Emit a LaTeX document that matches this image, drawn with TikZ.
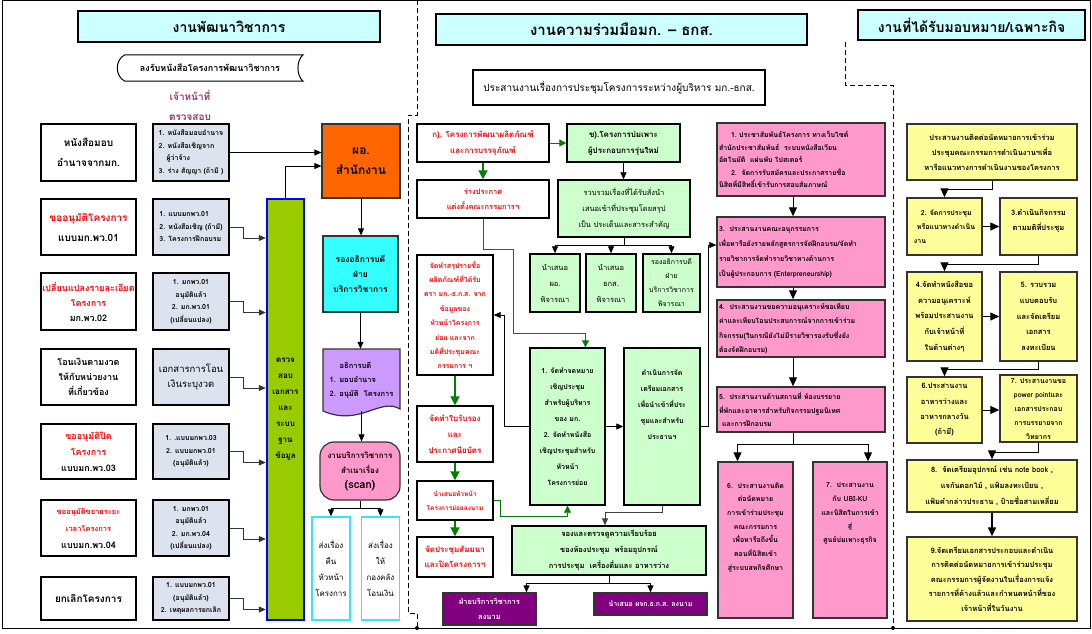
\documentclass[tikz,border=0pt]{standalone}
\usepackage{fontspec}
\setmainfont{Loma}[Script=Thai]
\usetikzlibrary{arrows.meta, calc}
\definecolor{headcyan}{HTML}{CCFFFF}
\definecolor{docgray}{HTML}{DDE3EE}
\definecolor{lime}{HTML}{99CC00}
\definecolor{orangebox}{HTML}{FF6600}
\definecolor{cyanbox}{HTML}{33FFFF}
\definecolor{cyanline}{HTML}{33E6FF}
\definecolor{lavender}{HTML}{CC99FF}
\definecolor{pinkbox}{HTML}{FF99CC}
\definecolor{greenbox}{HTML}{CCFFCC}
\definecolor{purplebox}{HTML}{800080}
\definecolor{yellowbox}{HTML}{FFFF99}
\definecolor{txtred}{HTML}{FF0000}
\definecolor{txtmaroon}{HTML}{993366}
\definecolor{arrgreen}{HTML}{008000}
\definecolor{edgegray}{HTML}{333333}
\newcommand{\fsz}[2]{\fontsize{#1}{#2}\selectfont}
\tikzset{
  head/.style={draw, line width=2.4pt, fill=headcyan, font=\fsz{14}{16}\bfseries},
  lbox/.style={draw, line width=1.4pt, fill=white, align=center, inner sep=1pt, minimum width=95pt},
  gbox/.style={draw, line width=1.4pt, fill=docgray, align=center, inner sep=2pt, minimum width=76pt, font=\fsz{7}{12.5}\bfseries},
  mbox/.style={draw, line width=1.4pt, fill=white, align=center, inner sep=1pt, text=txtred, font=\fsz{7.5}{15}\bfseries},
  gnbox/.style={draw, line width=1.4pt, fill=greenbox, align=center, inner sep=1pt, font=\fsz{7.5}{16}\bfseries},
  pkbox/.style={draw=edgegray, line width=1.4pt, fill=pinkbox, inner sep=2pt, font=\fsz{7}{12.5}\bfseries},
  ylbox/.style={draw=edgegray, line width=1.4pt, fill=yellowbox, align=center, inner sep=1pt, font=\fsz{7.5}{15}\bfseries},
  cybox/.style={draw=cyanline, line width=1.4pt, fill=white, align=center, minimum width=38pt, minimum height=103pt, font=\fsz{8}{16}},
  arr/.style={-{Triangle[length=7pt,width=6pt]}, line width=0.8pt},
  arrbig/.style={-{Triangle[length=9pt,width=8pt]}, line width=1pt},
  garr/.style={-{Triangle[length=9pt,width=9pt]}, line width=1.8pt, draw=arrgreen},
  gline/.style={-{Triangle[length=7pt,width=7pt]}, line width=1pt, draw=arrgreen},
}
\begin{document}
\begin{tikzpicture}[x=1pt,y=-1pt]
\useasboundingbox (0,0) rectangle (1092,634);
\draw[line width=1pt] (2,1) rectangle (1090,628);
% separators
\draw[dash pattern=on 5pt off 3pt, line width=0.8pt] (417,0) -- (417,115) -- (408,115) -- (408,613) -- (417,613) -- (417,628);
\fill (417,628) circle (2pt);
\draw[dash pattern=on 5pt off 3pt, line width=0.8pt] (845,42) -- (845,85) -- (893,85) -- (893,628);
\fill (893,628) circle (2pt);

% headers
\node[head, minimum width=302pt, minimum height=31pt] (h1) at (229,26.5) {งานพัฒนาวิชาการ};
\node[head, minimum width=371pt, minimum height=31pt, font=\fsz{15}{17}\bfseries] (h2) at (621.5,29.5) {งานความร่วมมือมก. – ธกส.};
\node[head, minimum width=227pt, minimum height=30pt, font=\fsz{14}{16}\bfseries] (h3) at (971.5,25) {งานที่ได้รับมอบหมาย/เฉพาะกิจ};
\node[draw, line width=2pt, minimum width=292pt, minimum height=35pt, font=\fsz{10}{12}] (meet) at (619,87.5) {ประสานงานเรื่องการประชุมโครงการระหว่างผู้บริหาร มก.-ธกส.};

% left part
\node[font=\fsz{9}{11}\bfseries, minimum width=186pt, minimum height=26pt] (recv) at (210,68) {ลงรับหนังสือโครงการพัฒนาวิชาการ};
\draw[line width=1pt] ([xshift=8pt]recv.north west) -- (recv.north east) .. controls +(-7,5) and +(-7,-5) .. (recv.south east) -- ([xshift=8pt]recv.south west) .. controls +(-10,-5) and +(-10,5) .. ([xshift=8pt]recv.north west);
\node[text=txtmaroon, font=\fsz{10}{20}\bfseries, align=center] (officer) at (190,105) {เจ้าหน้าที่\\ตรวจสอบ};

\node[lbox, minimum height=57pt, font=\fsz{10}{20}\bfseries] (l1) at (88.5,152.5) {หนังสือมอบ\\อำนาจจากมก.};
\node[lbox, minimum height=56pt, font=\fsz{10}{20}\bfseries] (l2) at (88.5,227) {\textcolor{txtred}{ขออนุมัติโครงการ}\\แบบมก.พว.01};
\node[lbox, minimum height=57pt, font=\fsz{9}{15}\bfseries] (l3) at (88.5,301.5) {\textcolor{txtred}{เปลี่ยนแปลงรายละเอียด}\\\textcolor{txtred}{โครงการ}\\มก.พว.02};
\node[lbox, minimum height=56pt, font=\fsz{9}{15}\bfseries] (l4) at (88.5,377) {โอนเงินตามงวด\\ให้กับหน่วยงาน\\ที่เกี่ยวข้อง};
\node[lbox, minimum height=55pt, font=\fsz{9}{16}\bfseries] (l5) at (88.5,451.5) {\textcolor{txtred}{ขออนุมัติปิด}\\\textcolor{txtred}{โครงการ}\\แบบมก.พว.03};
\node[lbox, minimum height=56pt, font=\fsz{9}{17}\bfseries] (l6) at (88.5,528) {\textcolor{txtred}{\fsz{7.5}{16}ขออนุมัติขยายระยะ}\\\textcolor{txtred}{\fsz{7.5}{16}เวลาโครงการ}\\แบบมก.พว.04};
\node[lbox, minimum height=43pt, font=\fsz{10}{14}\bfseries] (l7) at (88.5,598.5) {ยกเลิกโครงการ};

\node[gbox, minimum height=57pt, align=left] (g1) at (191,152.5) {1. หนังสือมอบอำนาจ\\2. หนังสือเชิญจาก\\\hspace*{8pt}ผู้ว่าจ้าง\\3. ร่าง สัญญา (ถ้ามี )};
\node[gbox, minimum height=56pt, align=left] (g2) at (191,227) {1. แบบมกพว.01\\2. หนังสือเชิญ (ถ้ามี)\\3. โครงการฝึกอบรม};
\node[gbox, minimum height=57pt] (g3) at (191,301.5) {1. มกพว.01\\อนุมัติแล้ว\\2. มก.พว.01\\(เปลี่ยนแปลง)};
\node[gbox, minimum height=56pt, font=\fsz{9.5}{15}] (g4) at (191,377) {เอกสารการโอน\\เงินระบุงวด};
\node[gbox, minimum height=55pt] (g5) at (191,451.5) {1. .แบบมกพว.03\\2. แบบมกพว.01\\(อนุมัติแล้ว)};
\node[gbox, minimum height=56pt] (g6) at (191,528) {1. มกพว.01\\อนุมัติแล้ว\\2. มก.พว.04\\(เปลี่ยนแปลง)};
\node[gbox, minimum height=43pt] (g7) at (191,598.5) {1. แบบมกพว.01\\(อนุมัติแล้ว)\\2. เหตุผลการยกเลิก};

\node[draw=blue, line width=2.4pt, fill=lime, minimum width=37pt, minimum height=421pt, align=center, font=\fsz{8}{16}\bfseries] (bar) at (285.5,409.5) {ตรวจ\\สอบ\\เอกสาร\\และ\\ระบบ\\ฐาน\\ข้อมูล};

\node[draw=edgegray, line width=1.2pt, fill=orangebox, minimum width=78pt, minimum height=74pt, align=center, font=\fsz{12}{20}\bfseries] (po) at (361,161) {ผอ.\\สำนักงาน};
\node[draw=edgegray, line width=1.2pt, fill=cyanbox, minimum width=75pt, minimum height=76pt, align=center, font=\fsz{8.5}{15}\bfseries] (rong) at (360.5,274) {รองอธิการบดี\\ฝ่าย\\บริการวิชาการ};
\draw[draw=edgegray, line width=1.2pt, fill=lavender] (323,349) -- (400,349) -- (400,409) .. controls (380,397) and (360,427) .. (323,411) -- cycle;
\node[minimum width=77pt, minimum height=62pt, align=left, font=\fsz{7.5}{14}\bfseries] (doc) at (361.5,380) {\hspace*{10pt}อธิการบดี\\1. มอบอำนาจ\\2. อนุมัติ\ \ โครงการ};
\node[draw=edgegray, line width=1.2pt, fill=pinkbox, rounded corners=14pt, minimum width=80pt, minimum height=58pt, align=center, font=\fsz{8}{15}\bfseries] (scan) at (360,471) {งานบริการวิชาการ\\สำเนาเรื่อง\\{\fsz{11}{15}(scan)}};
\node[cybox] (ca) at (331,568.5) {ส่งเรื่อง\\คืน\\หัวหน้า\\โครงการ};
\node[cybox] (cb) at (380.5,568.5) {ส่งเรื่อง\\ให้\\กองคลัง\\โอนเงิน};

% middle part
\node[mbox, minimum width=132pt, minimum height=38pt, font=\fsz{8}{16}\bfseries] (ka) at (483,143) {ก). โครงการพัฒนาผลิตภัณฑ์\\และการบรรจุภัณฑ์};
\node[gnbox, minimum width=113pt, minimum height=38pt, font=\fsz{8}{16}\bfseries] (kha) at (623.5,143) {ข).โครงการบ่มเพาะ\\ผู้ประกอบการรุ่นใหม่};
\node[mbox, minimum width=132pt, minimum height=38pt] (rak) at (483,199) {ร่างประกาศ\\แต่งตั้งคณะกรรมการฯ};
\node[gnbox, minimum width=132pt, minimum height=57pt, font=\fsz{7.5}{16}] (ruam) at (624,208.5) {รวบรวมเรื่องที่ได้รับสั่งนำ\\เสนอเข้าที่ประชุมโดยสรุป\\เป็น ประเด็นและสาระสำคัญ};
\node[gnbox, minimum width=50pt, minimum height=58pt, font=\fsz{7.5}{16}] (n1) at (555,283) {นำเสนอ\\ผอ.\\พิจารณา};
\node[gnbox, minimum width=50pt, minimum height=58pt, font=\fsz{7.5}{16}] (n2) at (611,283) {นำเสนอ\\ธกส.\\พิจารณา};
\node[gnbox, minimum width=57pt, minimum height=58pt, font=\fsz{7}{14}] (n3) at (671.5,283) {รองอธิการบดี\\ฝ่าย\\บริการวิชาการ\\พิจารณา};
\node[mbox, minimum width=76pt, minimum height=120pt, font=\fsz{7}{14.4}\bfseries] (sarup) at (455,315) {จัดทำสรุปรายชื่อ\\ผลิตภัณฑ์ที่ได้รับ\\ตรา มก.-ธ.ก.ส. จาก\\ข้อมูลของ\\หัวหน้าโครงการ\\ย่อย และจาก\\มติที่ประชุมคณะ\\กรรมการ ฯ};
\node[mbox, minimum width=76pt, minimum height=56pt, font=\fsz{8}{16}\bfseries] (bai) at (455,434) {จัดทำใบรับรอง\\และ\\ประกาศนียบัตร};
\node[mbox, minimum width=76pt, minimum height=39pt, font=\fsz{6.5}{14}\bfseries] (nam) at (455,500.5) {นำเสนอหัวหน้า\\โครงการย่อยลงนาม};
\node[mbox, minimum width=76pt, minimum height=40pt, font=\fsz{8}{15}\bfseries] (sam) at (455,557) {จัดประชุมสัมมนา\\และปิดโครงการฯ};
\node[gnbox, minimum width=75pt, minimum height=157pt, font=\fsz{7}{16}\bfseries] (jd1) at (567.5,426.5) {1. จัดทำจดหมาย\\เชิญประชุม\\สำหรับผู้บริหาร\\ของ มก.\\2. จัดทำหนังสือ\\เชิญประชุมสำหรับ\\หัวหน้า\\โครงการย่อย};
\node[gnbox, minimum width=76pt, minimum height=157pt, font=\fsz{7}{16}\bfseries] (jd2) at (662,426.5) {ดำเนินการจัด\\เตรียมเอกสาร\\เพื่อนำเข้าที่ประ\\ชุมและสำหรับ\\ประธานฯ\\[11pt]\mbox{}\\\mbox{}};
\node[gnbox, minimum width=194pt, minimum height=49pt, font=\fsz{7.5}{16}\bfseries] (jong) at (609,550.5) {จองและตรวจดูความเรียบร้อย\\ของห้องประชุม\ \ พร้อมอุปกรณ์\\การประชุม\ \ เครื่องดื่มและ อาหารว่าง};
\node[draw=edgegray, line width=1.2pt, fill=purplebox, text=white, minimum width=93pt, minimum height=32pt, align=center, font=\fsz{7.5}{15}\bfseries] (pa) at (489.5,609) {ฝ่ายบริการวิชาการ\\ลงนาม};
\node[draw=edgegray, line width=1.2pt, fill=purplebox, text=white, minimum width=113pt, minimum height=22pt, align=center, font=\fsz{7}{14}\bfseries] (pb) at (650.5,604) {นำเสนอ ผจก.ธ.ก.ส. ลงนาม};

\node[pkbox, text width=164pt, minimum height=73pt, align=left] (p1) at (801,159.5) {\hspace*{12pt}1.\ ประชาสัมพันธ์โครงการ ทางเว็บไซต์\\สำนักประชาสัมพันธ์\ \ ระบบหนังสือเวียน\\อัตโนมัติ\ \ แผ่นพับ โปสเตอร์\\\hspace*{12pt}2.\ \ จัดการรับสมัครและประกาศรายชื่อ\\นิสิตที่มีสิทธิ์เข้ารับการสอบสัมภาษณ์};
\node[pkbox, text width=164pt, minimum height=70pt, align=left, font=\fsz{7}{15}\bfseries] (p3) at (801,252) {3.\ \ ประสานงานคณะอนุกรรมการ\\เพื่อหารือยังรายหลักสูตรการจัดฝึกอบรม/จัดทำ\\รายวิชาการจัดทำรายวิชาทางด้านการ\\เป็นผู้ประกอบการ (Enterpreneurship)};
\node[pkbox, text width=164pt, minimum height=57pt, align=left, font=\fsz{7}{14.5}\bfseries] (p4) at (801,328.5) {4.\ \ ประสานงานขอความอนุเคราะห์ขอเทียบ\\ค่าและเทียบโอนประสบการณ์จากการเข้าร่วม\\กิจกรรม(ในกรณียังไม่มีรายวิชารองรับซึ่งยัง\\ต้องจัดฝึกอบรม)};
\node[pkbox, text width=164pt, minimum height=45pt, align=left, font=\fsz{7}{13.5}\bfseries] (p5) at (801,409.5) {5.\ \ ประสานงานด้านสถานที่ ห้องบรรยาย\\ที่พักและอาหารสำหรับกิจกรรมปฐมนิเทศ\\\hspace*{3pt}และการฝึกอบรม};
\node[pkbox, minimum width=75pt, minimum height=156pt, align=center, font=\fsz{7}{13.7}\bfseries] (p6) at (755.5,540) {6.\ \ ประสานงานติด\\ต่อนัดหมาย\\การเข้าร่วมประชุม\\คณะกรรมการ\\เพื่อหารือถึงขั้น\\ตอนที่นิสิตเข้า\\สู่ระบบสหกิจศึกษา\\\mbox{}\\\mbox{}};
\node[pkbox, minimum width=74pt, minimum height=156pt, align=center, font=\fsz{7}{13.7}\bfseries] (p7) at (850,540) {7.\ \ ประสานงาน\\กับ UBI-KU\\และนิสิตในการเข้า\\สู่\\ศูนย์บ่มเพาะธุรกิจ\\\mbox{}\\\mbox{}\\\mbox{}\\\mbox{}};

% right part
\node[ylbox, minimum width=170pt, minimum height=56pt] (y1) at (992,152) {ประสานงานติดต่อนัดหมายการเข้าร่วม\\ประชุมคณะกรรมการดำเนินงานฯเพื่อ\\หารือแนวทางการดำเนินงานของโครงการ};
\node[ylbox, minimum width=75pt, minimum height=57pt, align=left, font=\fsz{7}{14}\bfseries] (y2) at (944.5,226.5) {\hspace*{7pt}2. จัดการประชุม\\\hspace*{3pt}หรือแนวทางดำเนิน\\งาน};
\node[ylbox, minimum width=77pt, minimum height=57pt] (y3) at (1038.5,226.5) {3.ดำเนินกิจกรรม\\ตามมติที่ประชุม\\[-2pt]\mbox{}};
\node[ylbox, minimum width=75pt, minimum height=89pt, font=\fsz{7.5}{15.8}\bfseries] (y4) at (944.5,316.5) {4.จัดทำหนังสือขอ\\ความอนุเคราะห์\\พร้อมประสานงาน\\กับเจ้าหน้าที่\\ในด้านต่างๆ};
\node[ylbox, minimum width=77pt, minimum height=89pt, font=\fsz{7.5}{15.8}\bfseries] (y5) at (1038.5,316.5) {5. รวบรวม\\แบบตอบรับ\\และจัดเตรียม\\เอกสาร\\ลงทะเบียน};
\node[ylbox, minimum width=75pt, minimum height=66pt, font=\fsz{7.5}{15.3}\bfseries] (y6) at (944.5,410) {6.ประสานงาน\\อาหารว่างและ\\อาหารกลางวัน\\(ถ้ามี)};
\node[ylbox, minimum width=77pt, minimum height=67pt, font=\fsz{7}{14}\bfseries] (y7) at (1038.5,408.5) {7. ประสานงานขอ\\power pointและ\\เอกสารประกอบ\\การบรรยายจาก\\วิทยากร};
\node[ylbox, minimum width=170pt, minimum height=52pt, font=\fsz{7.5}{16}\bfseries] (y8) at (992,486) {8.\ \ จัดเตรียมอุปกรณ์ เช่น note book ,\\แจกันดอกไม้ , แฟ้มลงทะเบียน ,\\แฟ้มคำกล่าวประธาน , ป้ายชื่อสามเหลี่ยม};
\node[ylbox, minimum width=170pt, minimum height=84pt, font=\fsz{7.5}{14.5}\bfseries] (y9) at (992,579) {9.จัดเตรียมเอกสารประกอบและดำเนิน\\การติดต่อนัดหมายการเข้าร่วมประชุม\\คณะกรรมการผู้จัดงานในเรื่องการแจ้ง\\รายการที่ค้างแล้วและกำหนดหน้าที่ของ\\เจ้าหน้าที่ในวันงาน};

% connectors, left
\draw[arr] (g1.east) -- (g1.east -| po.west);
\foreach \g in {g2,g3,g4,g5,g6,g7}
  \draw[arr, draw=edgegray] (\g.east) -- ++(14,0) |- ($(\g.east -| bar.west)+(0,11)$);
\draw[arr] (bar.north) |- ($(po.west)+(0,5)$);
\draw[arr] (po.south) -- (po.south |- rong.north);
\draw[arr] (rong.south) -- (rong.south |- doc.north);
\draw[arr] (doc.south) -- (doc.south |- scan.north);
\draw (scan.south) -- ++(0,8) coordinate (scj);
\draw[arr] (scj) -| (ca.north);
\draw[arr] (scj) -| (cb.north);

% connectors, middle
\draw[gline] (ka.east) -- (kha.west);
\draw[garr] (ka.south) -- (rak.north);
\draw[arr] (kha.south) -- (kha.south |- ruam.north);
\draw (ruam.south) -- ++(0,8) coordinate (rj);
\foreach \n in {n1,n2,n3}
  \draw[arr] (rj) -| (\n.north);
\draw[gline] (rak.south) -- ++(0,31) -| ++(30,84) -| ($(jd1.north)+(18,0)$);
\draw[arr] (jd1.west) -- ++(-25,0) |- (sarup.east);
\draw[arr] (jd1.east) -- (jd2.west);
\draw[arr] (jd2.east) -- ++(8,0) |- ($(p3.west)+(0,-7)$);
\draw[arr, draw=darkgray] (jd2.south) -- ++(0,7) -| ($(jong.north)+(-4,0)$);
\draw[garr] (sarup.south) -- (bai.north);
\draw[garr] (bai.south) -- (nam.north);
\draw[garr] (nam.south) -- (sam.north);
\draw[gline, line width=0.8pt] (nam.east) -- ++(7,0) |- ($(jd1.south)+(0,11)$) -- (jd1.south);
\draw (jong.south) -- ++(0,8) coordinate (jj);
\draw[arr] (jj) -| ($(pa.north)+(37,0)$);
\draw[arr] (jj) -| (pb.north);
\draw[arrbig] ([xshift=-8pt]p1.south) -- ([xshift=-8pt]p3.north);
\draw[arrbig] ([xshift=-8pt]p3.south) -- ([xshift=-8pt]p4.north);
\draw[arrbig] ([xshift=-8pt]p4.south) -- ([xshift=-8pt]p5.north);
\draw ([xshift=-8pt]p5.south) -- ++(0,12) coordinate (pj);
\draw[arrbig] (pj) -| ([xshift=-18pt]p6.north);
\draw[arrbig] (pj) -| ([xshift=18pt]p7.north);

% connectors, right
\draw[arrbig] (y1.south) -- ++(0,9) -| (y2.north);
\draw[arrbig] (y2.east) -- (y3.west);
\draw[arrbig] (y3.south) -- ++(0,9) -| (y4.north);
\draw[arrbig] (y4.east) -- (y5.west);
\draw[arrbig] (y5.south) -- ++(0,8) -| (y6.north);
\draw[arrbig] (y6.east) -- (y6.east -| y7.west);
\draw[arrbig] (y7.south) -- ++(0,10) -| (y8.north);
\draw[arrbig, line width=1.8pt] (y8.south) -- (y9.north);
\end{tikzpicture}
\end{document}
